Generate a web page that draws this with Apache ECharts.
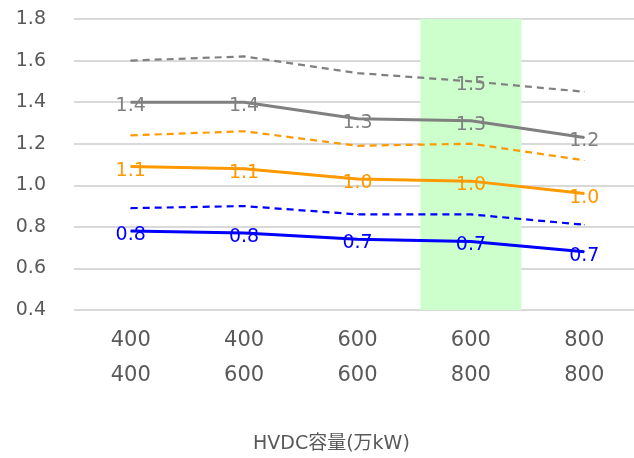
<!DOCTYPE html>
<html>
<head>
<meta charset="utf-8">
<script src="https://cdn.jsdelivr.net/npm/echarts@6/dist/echarts.min.js"></script>
<style>
  html, body { margin: 0; padding: 0; background: #fff; overflow: hidden; }
  /* 右端の区切りが画面外に少しはみ出すので、描画領域を少し広げる */
  #chart { width: 641px; height: 458px; }
</style>
</head>
<body>
<div id="chart"></div>
<script>
    // 横軸: 上段/下段 のHVDC容量
    var categories = ['400\n400', '400\n600', '600\n600', '600\n800', '800\n800'];

    var graySolid = [1.40, 1.40, 1.32, 1.31, 1.23];
    var grayDash = [1.60, 1.62, 1.54, 1.50, 1.45];
    var orangeSolid = [1.09, 1.08, 1.03, 1.02, 0.96];
    var orangeDash = [1.24, 1.26, 1.19, 1.20, 1.12];
    var blueSolid = [0.78, 0.77, 0.74, 0.73, 0.68];
    var blueDash = [0.89, 0.90, 0.86, 0.86, 0.81];

    // 強調する列 (600/800)
    var highlight = [null, null, null, 1.8, null];

    var FONT = '"DejaVu Sans", "Noto Sans CJK JP", sans-serif';
    var TEXT = '#595959';

    function pointLabel(color) {
        return {
            show: true,
            position: 'top',
            distance: 0,
            offset: [0, 14],
            color: color,
            fontSize: 19,
            fontFamily: FONT,
            formatter: function (p) { return p.value.toFixed(1); }
        };
    }

    function solidLine(data, color) {
        return {
            type: 'line',
            data: data,
            symbol: 'circle',
            symbolSize: 1,
            showSymbol: true,
            z: 3,
            itemStyle: { color: color },
            lineStyle: { color: color, width: 3 },
            label: pointLabel(color)
        };
    }

    function dashLine(data, color, labelIdx) {
        return {
            type: 'line',
            data: data.map(function (v, i) {
                return i === labelIdx ? { value: v, label: pointLabel(color) } : v;
            }),
            symbol: 'circle',
            symbolSize: 1,
            showSymbol: true,
            z: 3,
            itemStyle: { color: color },
            lineStyle: { color: color, width: 2.2, type: [7, 5] }
        };
    }

    var chart = echarts.init(document.getElementById('chart'), null, { renderer: 'canvas' });

    chart.setOption({
        animation: false,
        backgroundColor: '#fff',
        grid: { left: 74, right: 0, top: 19, bottom: 148, containLabel: false },
        xAxis: {
            type: 'category',
            data: categories,
            boundaryGap: true,
            axisLine: { show: false },
            axisTick: { show: false },
            axisLabel: {
                color: TEXT,
                fontSize: 21,
                fontFamily: FONT,
                lineHeight: 35,
                margin: 13
            }
        },
        yAxis: {
            type: 'value',
            min: 0.4,
            max: 1.8,
            interval: 0.2,
            axisLine: { show: false },
            axisTick: { show: false },
            splitLine: { lineStyle: { color: '#d9d9d9', width: 2 } },
            axisLabel: {
                color: TEXT,
                fontSize: 19,
                fontFamily: FONT,
                margin: 28,
                formatter: function (v) { return v.toFixed(1); }
            }
        },
        graphic: [{
            type: 'text',
            left: 253,
            top: 435,
            style: {
                text: 'HVDC容量(万kW)',
                fill: TEXT,
                font: '19px ' + FONT
            }
        }],
        series: [
            {
                type: 'bar',
                data: highlight,
                barWidth: '89%',
                z: 1,
                silent: true,
                itemStyle: { color: '#ccffcc' }
            },
            dashLine(grayDash, '#808080', 3),
            solidLine(graySolid, '#808080'),
            dashLine(orangeDash, '#ff9900', -1),
            solidLine(orangeSolid, '#ff9900'),
            dashLine(blueDash, '#0000ff', -1),
            solidLine(blueSolid, '#0000ff')
        ]
    });
</script>
</body>
</html>
